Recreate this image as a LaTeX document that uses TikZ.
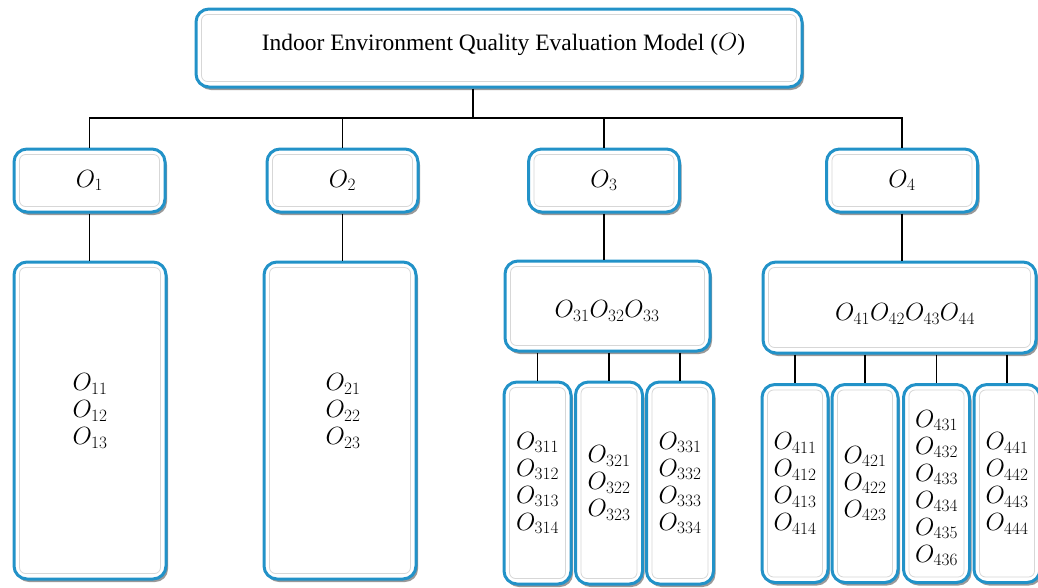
\documentclass[tikz,border=0pt]{standalone}
\usepackage{fontspec}
\setmainfont{Liberation Serif}
\usetikzlibrary{shadows}
\definecolor{boxblue}{RGB}{34,146,200}
\definecolor{innergray}{RGB}{215,215,215}
\tikzset{
  box/.style={draw=boxblue, line width=3pt, rounded corners=13pt, fill=white,
    inner sep=0pt, align=center, font=\fontsize{23}{27}\selectfont,
    drop shadow={shadow xshift=2pt, shadow yshift=-3pt, opacity=0.5, fill=black!80}},
  lbl/.style={inner sep=0pt, align=center, font=\fontsize{23}{27}\selectfont},
  innerline/.style={draw=innergray, line width=0.8pt, rounded corners=6pt},
  conn/.style={draw=black, line width=1.7pt},
}
\begin{document}
\begin{tikzpicture}[x=1pt,y=-1pt]
\useasboundingbox (0,0) rectangle (1038,587);
% title
\node[box, minimum width=606, minimum height=78] (T) at (499,48) {};
\node[lbl, font=\fontsize{23.5}{26}\selectfont] (Tt) at (503.5,45) {Indoor Environment Quality Evaluation Model ($O$)};
% level 1
\node[box, minimum width=151, minimum height=63] (O1) at (89.5,180.5) {$O_1$};
\node[box, minimum width=151, minimum height=63] (O2) at (342.5,180.5) {$O_2$};
\node[box, minimum width=151, minimum height=63] (O3) at (604,180.5) {$O_3$};
\node[box, minimum width=151, minimum height=63] (O4) at (902,180.5) {$O_4$};
% level 2
\node[box, minimum width=152, minimum height=317] (B1) at (90,420.5) {};
\node[lbl] (B1t) at (90,411) {$O_{11}$\\$O_{12}$\\$O_{13}$};
\node[box, minimum width=152, minimum height=317] (B2) at (340,420.5) {};
\node[lbl] (B2t) at (343,411) {$O_{21}$\\$O_{22}$\\$O_{23}$};
\node[box, minimum width=205, minimum height=90] (M3) at (607.5,306) {};
\node[lbl] (M3t) at (607,311) {$O_{31}O_{32}O_{33}$};
\node[box, minimum width=273, minimum height=91] (M4) at (899.5,307.5) {};
\node[lbl] (M4t) at (905,314) {$O_{41}O_{42}O_{43}O_{44}$};
% level 3
\node[box, minimum width=67, minimum height=202] (S31) at (537.5,483) {$O_{311}$\\$O_{312}$\\$O_{313}$\\$O_{314}$};
\node[box, minimum width=67, minimum height=202] (S32) at (609,483) {$O_{321}$\\$O_{322}$\\$O_{323}$};
\node[box, minimum width=67, minimum height=202] (S33) at (680,483) {$O_{331}$\\$O_{332}$\\$O_{333}$\\$O_{334}$};
\node[box, minimum width=66, minimum height=198] (S41) at (795,483.5) {$O_{411}$\\$O_{412}$\\$O_{413}$\\$O_{414}$};
\node[box, minimum width=66, minimum height=198] (S42) at (865,483.5) {$O_{421}$\\$O_{422}$\\$O_{423}$};
\node[box, minimum width=66, minimum height=198] (S43) at (936.5,483.5) {};
\node[lbl] (S43t) at (936.5,488) {$O_{431}$\\$O_{432}$\\$O_{433}$\\$O_{434}$\\$O_{435}$\\$O_{436}$};
\node[box, minimum width=66, minimum height=198] (S44) at (1007,483.5) {$O_{441}$\\$O_{442}$\\$O_{443}$\\$O_{444}$};
% inner bevel lines
\foreach \n in {T,O1,O2,O3,O4,B1,B2,M3,M4,S31,S32,S33,S41,S42,S43,S44}
  \draw[innerline] ([shift={(7,7)}]\n.north west) rectangle ([shift={(-7,-7)}]\n.south east);
% connectors
\coordinate (bus) at (473,118);
\draw[conn] (bus |- T.south) -- (bus);
\draw[conn] (O1.north) |- (bus);
\draw[conn] (O4.north) |- (bus);
\draw[conn] (O2.north) -- (O2.north |- bus);
\draw[conn] (O3.north) -- (O3.north |- bus);
\draw[conn] (O1.south) -- (O1.south |- B1.north);
\draw[conn] (O2.south) -- (O2.south |- B2.north);
\draw[conn] (O3.south) -- (O3.south |- M3.north);
\draw[conn] (O4.south) -- (O4.south |- M4.north);
\foreach \s in {S31,S32,S33}
  \draw[conn] (\s.north |- M3.south) -- (\s.north);
\foreach \s in {S41,S42,S43,S44}
  \draw[conn] (\s.north |- M4.south) -- (\s.north);
\end{tikzpicture}
\end{document}
